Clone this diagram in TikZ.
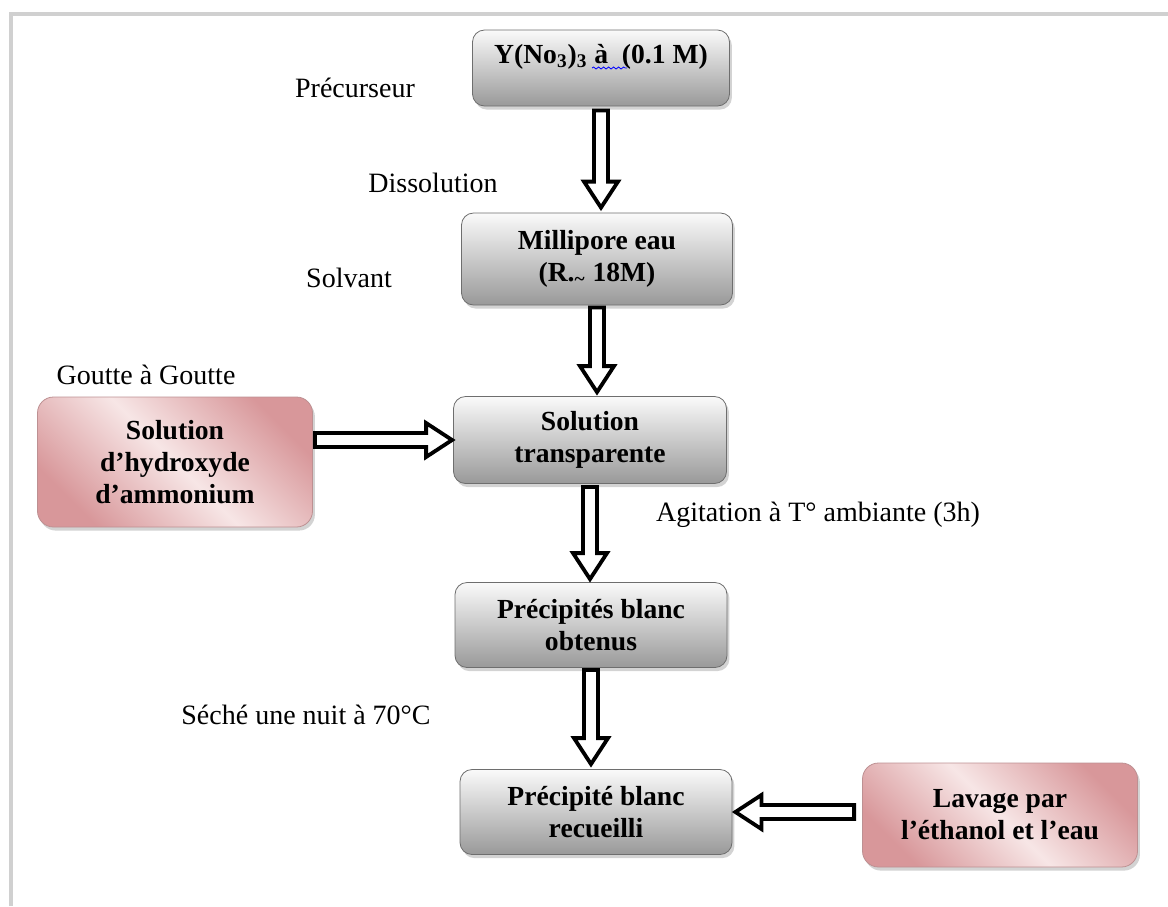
\documentclass[tikz,border=0pt]{standalone}
\usepackage{fontspec}
\setmainfont{Liberation Serif}
\usetikzlibrary{calc,shadows,decorations.pathmorphing}

\definecolor{roseD}{HTML}{D8979A}
\definecolor{roseL}{HTML}{F7E6E6}
\definecolor{boxtop}{HTML}{FAFAFA}
\definecolor{boxbot}{HTML}{999999}
\definecolor{boxline}{HTML}{6E6E6E}
\definecolor{frameline}{HTML}{D0D0D0}

\pgfdeclarehorizontalshading{roseband}{100bp}{color(0bp)=(roseD); color(25bp)=(roseD); color(50bp)=(roseL); color(75bp)=(roseD); color(100bp)=(roseD)}

\tikzset{
  greybox/.style={draw=boxline, rounded corners=6pt, top color=boxtop, bottom color=boxbot,
    drop shadow={shadow xshift=1.2pt, shadow yshift=-1.8pt, opacity=0.35},
    align=center, inner sep=0pt, font=\fontsize{13.8}{16}\selectfont\bfseries},
  rosebox/.style={draw=roseD!70!gray, rounded corners=8pt, shading=roseband, shading angle=45,
    drop shadow={shadow xshift=1.2pt, shadow yshift=-1.8pt, opacity=0.35},
    align=center, inner sep=0pt, font=\fontsize{13.8}{16}\selectfont\bfseries},
  note/.style={font=\fontsize{14}{16}\selectfont, inner sep=0pt},
  hollow/.style={draw=black, line width=1.9pt, fill=white, line join=miter,
    to path={let \p1=($(\tikztotarget)-(\tikztostart)$), \n1={atan2(\y1,\x1)}, \n2={veclen(\x1,\y1)-13pt} in
      ($(\tikztostart)+(\n1+90:3.5pt)$) -- ($(\tikztostart)+(\n1:\n2)+(\n1+90:3.5pt)$)
      -- ($(\tikztostart)+(\n1:\n2)+(\n1+90:8.5pt)$) -- (\tikztotarget)
      -- ($(\tikztostart)+(\n1:\n2)+(\n1-90:8.5pt)$) -- ($(\tikztostart)+(\n1:\n2)+(\n1-90:3.5pt)$)
      -- ($(\tikztostart)+(\n1-90:3.5pt)$) -- cycle}}
}

\begin{document}
\begin{tikzpicture}[x=0.5pt,y=-0.5pt]

	\useasboundingbox (0,0) rectangle (1168,906);

	% Frame
	\draw [frameline, line width=2pt] (11,906) -- (11,14) -- (1168,14);

	% Main column
	\node [greybox, minimum width=128.5pt, text height=16.5pt, text depth=21.5pt] (prec) at (601,68) {Y(No\textsubscript{3})\textsubscript{3} à\ \ (0.1 M)};
	\node [greybox, minimum width=135.5pt, minimum height=46pt] (solv) at (597,259) {Millipore eau\\(R.\textsubscript{\textasciitilde} 18M)};
	\node [greybox, minimum width=136.5pt, minimum height=43.5pt] (trans) at (590,440) {Solution\\transparente};
	\node [greybox, minimum width=136pt, minimum height=42.5pt] (obt) at (591,625) {Précipités blanc\\obtenus};
	\node [greybox, minimum width=136pt, minimum height=42.5pt] (recu) at (596,812) {Précipité blanc\\recueilli};

	% Side boxes
	\node [rosebox, minimum width=137.5pt, minimum height=65pt] (ammo) at (175,462) {Solution\\d’hydroxyde\\d’ammonium};
	\node [rosebox, minimum width=137.5pt, minimum height=52pt] (lav) at (1000,815) {Lavage par\\l’éthanol et l’eau};

	% spell mark
	\draw [blue, decorate, decoration={snake, amplitude=0.5pt, segment length=2.5pt}] ($(prec.center)+(-9,0)$) -- ($(prec.center)+(26,0)$);

	% Arrows
	\draw [hollow] ([yshift=-2pt]prec.south) to ([yshift=2.5pt]prec.south |- solv.north);
	\draw [hollow] ([yshift=-1pt]solv.south) to ([yshift=2pt]solv.south |- trans.north);
	\draw [hollow] ([yshift=-1.5pt]trans.south) to ([yshift=1.5pt]trans.south |- obt.north);
	\draw [hollow] ([yshift=-1pt]obt.south) to ([yshift=2.5pt]obt.south |- recu.north);
	\draw [hollow] ([xshift=1pt]ammo.east |- trans.west) to ([xshift=-0.5pt]trans.west);
	\draw [hollow] ([xshift=-4pt]lav.west |- recu.east) to ([xshift=1.5pt]recu.east);

	% Labels
	\node [note] (lprec) at (355,88) {Précurseur};
	\node [note] (ldiss) at (433,183) {Dissolution};
	\node [note] (lsolv) at (349,278) {Solvant};
	\node [note] (lgout) at (146,375) {Goutte à Goutte};
	\node [note] (lagit) at (818,515) {Agitation à T° ambiante (3h)};
	\node [note] (lsech) at (306,715) {Séché une nuit à 70°C};

\end{tikzpicture}
\end{document}
